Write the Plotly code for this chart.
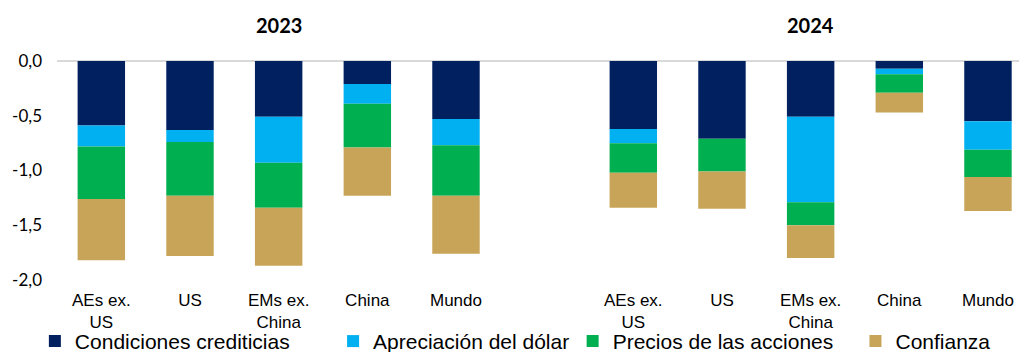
import plotly.graph_objects as go

# Regions shown for each year, and the year headings
years = ["2023", "2024"]
categories = ["AEs ex.<br>US", "US", "EMs ex.<br>China", "China", "Mundo"]

# Contributions (percentage points) by driver, 2023
credit_2023 = [-0.59, -0.63, -0.51, -0.21, -0.53]
dollar_2023 = [-0.19, -0.11, -0.42, -0.18, -0.24]
equity_2023 = [-0.48, -0.49, -0.41, -0.40, -0.46]
confidence_2023 = [-0.56, -0.55, -0.53, -0.44, -0.53]

# Contributions (percentage points) by driver, 2024
credit_2024 = [-0.62, -0.71, -0.51, -0.07, -0.55]
dollar_2024 = [-0.13, 0.00, -0.78, -0.05, -0.26]
equity_2024 = [-0.27, -0.30, -0.21, -0.17, -0.25]
confidence_2024 = [-0.32, -0.34, -0.30, -0.18, -0.31]

series_names = ["Condiciones crediticias", "Apreciación del dólar",
                "Precios de las acciones", "Confianza"]
series_colors = ["#002060", "#00B0F0", "#00B050", "#C8A458"]

y_tickvals = [0, -0.5, -1.0, -1.5, -2.0]
y_ticktext = ["0,0", "-0,5", "-1,0", "-1,5", "-2,0"]

# x slots: one empty slot separates the two years
n = len(categories)
x_pos = list(range(n)) + [n + 1 + i for i in range(n)]
x_labels = categories + categories

series_values = [
    credit_2023 + credit_2024,
    dollar_2023 + dollar_2024,
    equity_2023 + equity_2024,
    confidence_2023 + confidence_2024,
]

ARIAL = "Arial, 'Liberation Sans', sans-serif"
CALIB = "Lato, 'Open Sans', sans-serif"

fig = go.Figure()
legend_x = [-0.023, 0.287, 0.536, 0.830]
for k, (name, color, vals) in enumerate(zip(series_names, series_colors, series_values)):
    lg = "legend" if k == 0 else f"legend{k + 1}"
    fig.add_trace(go.Bar(
        x=x_pos, y=vals, name=name, width=0.535,
        marker=dict(color=color, line=dict(width=0)),
        legend=lg,
    ))

# Each series gets its own one-item legend along the bottom edge
legend_common = dict(
    orientation="h", yref="container", yanchor="middle", y=0.03,
    xanchor="left",
    font=dict(family=ARIAL, size=21, color="#000000"),
    bgcolor="rgba(0,0,0,0)", borderwidth=0,
)
layout_legends = {}
for k, lx in enumerate(legend_x):
    key = "legend" if k == 0 else f"legend{k + 1}"
    layout_legends[key] = dict(legend_common, x=lx)

fig.update_layout(
    width=1019, height=352,
    margin=dict(l=57, r=0, t=61, b=72, autoexpand=False),
    barmode="relative",
    plot_bgcolor="white", paper_bgcolor="white",
    showlegend=True,
    **layout_legends,
    xaxis=dict(
        range=[-0.5, 10.35], tickvals=x_pos, ticktext=x_labels,
        showgrid=False, zeroline=False, showline=False, ticks="",
        ticklabelstandoff=8, automargin=False,
        tickfont=dict(family=ARIAL, size=17, color="#000000"),
    ),
    yaxis=dict(
        range=[-2.0, 0.0], tickvals=y_tickvals, ticktext=y_ticktext,
        showgrid=False, zeroline=True, zerolinecolor="#D9D9D9", zerolinewidth=2,
        showline=False, ticks="", ticklabelstandoff=14, automargin=False,
        tickfont=dict(family=CALIB, size=17, color="#000000"),
    ),
)

for i, yr in enumerate(years):
    fig.add_annotation(
        x=x_pos[i * n + 2], y=1.164, xref="x", yref="paper",
        text=f"<b>{yr}</b>", showarrow=False, yanchor="middle",
        font=dict(family=CALIB, size=20, color="#000000"),
    )

fig.write_html("out.html")
